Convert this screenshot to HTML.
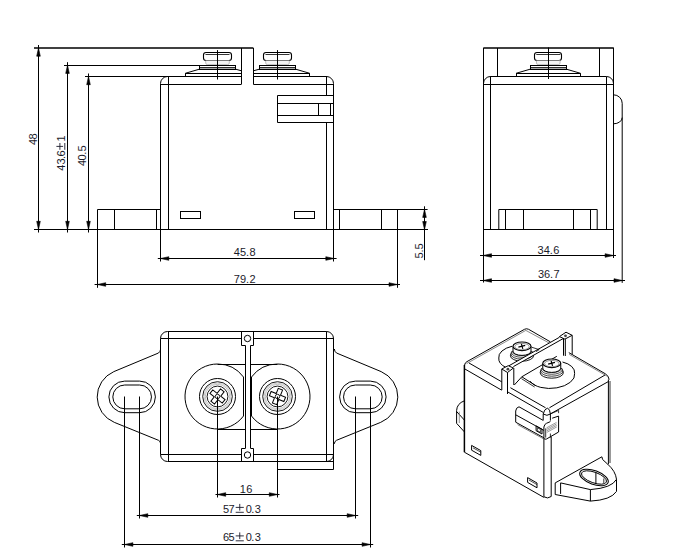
<!DOCTYPE html>
<html><head><meta charset="utf-8"><style>
html,body{margin:0;padding:0;background:#fff;width:700px;height:559px;overflow:hidden}
svg{display:block}
.g line,.g path,.g circle,.g rect,.g polyline,.g ellipse{stroke:#000;stroke-width:1;fill:none}
.g polygon.a{fill:#000;stroke:#000;stroke-width:0.6;stroke-linejoin:round}
.t text{font-family:"Liberation Sans",sans-serif;font-size:11px;fill:#1a1a2a}
</style></head><body>
<svg width="700" height="559" viewBox="0 0 700 559">
<g class="g">
<line x1="34" y1="48" x2="253.4" y2="48" style="stroke-width:1.3;"/>
<line x1="38.5" y1="45" x2="38.5" y2="232.5"/>
<polygon class="a" points="38.5,48 40.3,56.2 36.7,56.2"/>
<polygon class="a" points="38.5,229.5 36.7,221.3 40.3,221.3"/>
<line x1="64" y1="65.5" x2="199.5" y2="65.5"/>
<line x1="67.5" y1="62.2" x2="67.5" y2="232.5"/>
<polygon class="a" points="67.5,65.2 69.3,73.4 65.7,73.4"/>
<polygon class="a" points="67.5,229.5 65.7,221.3 69.3,221.3"/>
<line x1="85" y1="76.5" x2="241.4" y2="76.5"/>
<line x1="88.5" y1="73.5" x2="88.5" y2="232.5"/>
<polygon class="a" points="88.5,76.5 90.3,84.7 86.7,84.7"/>
<polygon class="a" points="88.5,229.5 86.7,221.3 90.3,221.3"/>
<line x1="34" y1="229.5" x2="428" y2="229.5"/>
<path d="M167.5,76.5 A7,7 0 0 0 160.5,83.5 V261.5"/>
<line x1="168.5" y1="76.5" x2="168.5" y2="229.5"/>
<line x1="160.6" y1="84.5" x2="241.4" y2="84.5"/>
<line x1="253.4" y1="84.5" x2="334" y2="84.5"/>
<line x1="253.4" y1="76.5" x2="327" y2="76.5"/>
<path d="M326.5,76.5 A7,7 0 0 1 333.5,83.5 V261.5"/>
<line x1="326.5" y1="76.5" x2="326.5" y2="95.4"/>
<line x1="326.5" y1="122.7" x2="326.5" y2="229.5"/>
<line x1="241.5" y1="48" x2="241.5" y2="84.3"/>
<line x1="253.5" y1="48" x2="253.5" y2="84.3"/>
<rect x="203.5" y="52.5" width="28" height="8" rx="2.5" style="stroke-width:1.1"/>
<line x1="205.5" y1="54.5" x2="229.5" y2="54.5" style="stroke-width:0.8;"/>
<path d="M205.7,60.5 V63 Q205.7,64.6 207.3,64.6 H227.7 Q229.3,64.6 229.3,63 V60.5" style="fill:#f4f4f4;stroke:#999;stroke-width:0.6"/>
<rect x="199.65" y="67.5" width="35.7" height="1.6" style="fill:#aaa;stroke:none"/>
<rect x="199.5" y="65.5" width="36" height="4"/>
<line x1="199.65" y1="67.5" x2="235.35" y2="67.5" style="stroke-width:0.8;"/>
<line x1="217.5" y1="50.1" x2="217.5" y2="79.5"/>
<rect x="263.5" y="52.5" width="28" height="8" rx="2.5" style="stroke-width:1.1"/>
<line x1="265.5" y1="54.5" x2="289.5" y2="54.5" style="stroke-width:0.8;"/>
<path d="M265.7,60.5 V63 Q265.7,64.6 267.3,64.6 H287.7 Q289.3,64.6 289.3,63 V60.5" style="fill:#f4f4f4;stroke:#999;stroke-width:0.6"/>
<rect x="259.65" y="67.5" width="35.7" height="1.6" style="fill:#aaa;stroke:none"/>
<rect x="259.5" y="65.5" width="36" height="4"/>
<line x1="259.65" y1="67.5" x2="295.35" y2="67.5" style="stroke-width:0.8;"/>
<line x1="277.5" y1="50.1" x2="277.5" y2="79.5"/>
<line x1="185.3" y1="73.5" x2="241.4" y2="73.5"/>
<line x1="185.5" y1="73.3" x2="185.5" y2="76.5"/>
<path d="M185.3,73.3 L199.65,69.1"/>
<path d="M235.35,69.1 L241.4,70.8"/>
<line x1="253.4" y1="73.5" x2="309.7" y2="73.5"/>
<line x1="309.5" y1="73.3" x2="309.5" y2="76.5"/>
<path d="M309.7,73.3 L295.35,69.1"/>
<path d="M259.65,69.1 L253.4,70.8"/>
<path d="M97.5,287.8 V209.5 H160.5"/>
<line x1="114.5" y1="209.4" x2="114.5" y2="229.5"/>
<line x1="156.5" y1="209.4" x2="156.5" y2="229.5"/>
<line x1="334" y1="209.5" x2="427.6" y2="209.5"/>
<line x1="397.5" y1="209.4" x2="397.5" y2="287.8"/>
<line x1="339.5" y1="209.4" x2="339.5" y2="229.5"/>
<line x1="381.5" y1="209.4" x2="381.5" y2="229.5"/>
<rect x="180.5" y="211.5" width="20" height="7"/>
<rect x="294.5" y="211.5" width="20" height="7"/>
<path d="M333.5,95.5 H277.5 V122.5 H333.5"/>
<line x1="277.3" y1="103.5" x2="334" y2="103.5"/>
<line x1="277.3" y1="115.5" x2="334" y2="115.5"/>
<rect x="318.5" y="103.5" width="12" height="12"/>
<line x1="157.8" y1="258.5" x2="336.6" y2="258.5"/>
<polygon class="a" points="160.6,258.5 168.8,256.7 168.8,260.3"/>
<polygon class="a" points="334,258.5 325.8,260.3 325.8,256.7"/>
<line x1="94.6" y1="284.5" x2="400" y2="284.5"/>
<polygon class="a" points="97.5,284.5 105.7,282.7 105.7,286.3"/>
<polygon class="a" points="397.2,284.5 389,286.3 389,282.7"/>
<line x1="424.5" y1="206.3" x2="424.5" y2="260.2"/>
<polygon class="a" points="424.5,209.4 426.3,217.4 422.7,217.4"/>
<polygon class="a" points="424.5,229.5 422.7,221.5 426.3,221.5"/>
<path transform="translate(65.4,170.7) rotate(-90)" d="M20.9,-5.5 H27.7 M24.3,-9 V-2.3 M20.9,-0.6 H27.7" style="stroke:#1a1a2a;stroke-width:0.9"/>
<line x1="483.3" y1="48" x2="613.8" y2="48" style="stroke-width:1.3;"/>
<line x1="483.5" y1="48" x2="483.5" y2="282.5"/>
<line x1="613.5" y1="48" x2="613.5" y2="258"/>
<line x1="497.5" y1="48" x2="497.5" y2="76.5"/>
<line x1="599.5" y1="48" x2="599.5" y2="76.5"/>
<line x1="490.2" y1="76.5" x2="606.4" y2="76.5"/>
<path d="M490.5,76.5 A7,7 0 0 0 483.5,83.5"/>
<path d="M606.5,76.5 A7,7 0 0 1 613.5,83.5"/>
<line x1="483.3" y1="84.5" x2="613.3" y2="84.5"/>
<line x1="490.5" y1="76.5" x2="490.5" y2="229.4"/>
<line x1="606.5" y1="76.5" x2="606.5" y2="229.4"/>
<line x1="483.3" y1="229.5" x2="613.3" y2="229.5"/>
<path d="M498.8,229.5 V209.5 H597.2 V229.5"/>
<line x1="505.5" y1="209.4" x2="505.5" y2="229.4"/>
<line x1="523.5" y1="209.4" x2="523.5" y2="229.4"/>
<line x1="573.5" y1="209.4" x2="573.5" y2="229.4"/>
<line x1="590.5" y1="209.4" x2="590.5" y2="229.4"/>
<rect x="534.5" y="52.5" width="27" height="8" rx="2.5" style="stroke-width:1.1"/>
<line x1="536.3" y1="54.5" x2="560.3" y2="54.5" style="stroke-width:0.8;"/>
<path d="M536.5,60.5 V63 Q536.5,64.6 538.1,64.6 H558.5 Q560.1,64.6 560.1,63 V60.5" style="fill:#f4f4f4;stroke:#999;stroke-width:0.6"/>
<rect x="530.45" y="67.5" width="35.7" height="1.6" style="fill:#aaa;stroke:none"/>
<rect x="530.5" y="65.5" width="36" height="4"/>
<line x1="530.45" y1="67.5" x2="566.15" y2="67.5" style="stroke-width:0.8;"/>
<line x1="548.5" y1="47.5" x2="548.5" y2="79"/>
<line x1="516.1" y1="73.5" x2="580.5" y2="73.5"/>
<line x1="516.5" y1="73.3" x2="516.5" y2="76.5"/>
<line x1="580.5" y1="73.3" x2="580.5" y2="76.5"/>
<path d="M516.1,73.3 L530.45,69.1"/>
<path d="M580.5,73.3 L566.15,69.1"/>
<path d="M613.5,94.8 A8.7,8.5 0 0 1 622.2,103.3 V282.9"/>
<path d="M622.2,117.6 A8.7,6.2 0 0 1 613.5,123.8"/>
<line x1="480" y1="255.5" x2="616" y2="255.5"/>
<polygon class="a" points="483.3,255.5 491.5,253.7 491.5,257.3"/>
<polygon class="a" points="613.3,255.5 605.1,257.3 605.1,253.7"/>
<line x1="480" y1="280.5" x2="625" y2="280.5"/>
<polygon class="a" points="483.3,280.5 491.5,278.7 491.5,282.3"/>
<polygon class="a" points="622.2,280.5 614,282.3 614,278.7"/>
<path d="M277.5,461.5 H167.5 A7,7 0 0 1 160.5,454.5 V338.5 A7,7 0 0 1 167.5,331.5 H326.5 A7,7 0 0 1 333.5,338.5 V469.5 H277.5 V461.5 H333.5 M326.5,461.5 A7,7 0 0 0 333.5,454.5"/>
<line x1="160.6" y1="338.5" x2="241.3" y2="338.5"/>
<line x1="253.6" y1="338.5" x2="334" y2="338.5"/>
<line x1="160.6" y1="454.5" x2="241.3" y2="454.5"/>
<line x1="253.6" y1="454.5" x2="334" y2="454.5"/>
<line x1="168.5" y1="331.4" x2="168.5" y2="461.3"/>
<line x1="326.5" y1="331.4" x2="326.5" y2="461.3"/>
<path d="M160.6,349 Q160.6,351.5 158.5,353 L113.82,371.64 A27.5,27.5 0 0 0 114.29,422.35 L158.5,440.3 Q160.6,441.3 160.6,443.8"/>
<path d="M124.7,381.1 H139.6 A15.8,15.8 0 0 1 139.6,412.7 H124.7 A15.8,15.8 0 0 1 124.7,381.1 Z"/>
<path d="M124.7,385 H139.6 A11.9,11.9 0 0 1 139.6,408.8 H124.7 A11.9,11.9 0 0 1 124.7,385 Z"/>
<path d="M334.4,349 Q334.4,351.5 336.5,353 L381.18,371.64 A27.5,27.5 0 0 1 380.71,422.35 L336.5,440.3 Q334.4,441.3 334.4,443.8"/>
<path d="M370.3,381.1 H355.4 A15.8,15.8 0 0 0 355.4,412.7 H370.3 A15.8,15.8 0 0 0 370.3,381.1 Z"/>
<path d="M370.3,385 H355.4 A11.9,11.9 0 0 0 355.4,408.8 H370.3 A11.9,11.9 0 0 0 370.3,385 Z"/>
<path d="M217.5,364 A32.5,32.5 0 1 0 243.5,416 V377 A32.5,32.5 0 0 0 217.5,364"/>
<path d="M277.5,364 A32.5,32.5 0 1 1 251.5,416 V377 A32.5,32.5 0 0 1 277.5,364"/>
<line x1="217.5" y1="364.5" x2="245.8" y2="364.5"/>
<line x1="250.6" y1="364.5" x2="277.5" y2="364.5"/>
<line x1="217.5" y1="429.5" x2="245.8" y2="429.5"/>
<line x1="250.6" y1="429.5" x2="277.5" y2="429.5"/>
<line x1="245.5" y1="345.5" x2="245.5" y2="448.3"/>
<line x1="250.5" y1="345.5" x2="250.5" y2="448.3"/>
<path d="M241.5,331.5 V345.5 H245.5 M250.5,345.5 H253.5 V331.5"/>
<path d="M241.5,461.5 V448.5 H245.5 M250.5,448.5 H253.5 V461.5"/>
<circle cx="247.5" cy="338.5" r="3.2"/>
<circle cx="247.5" cy="455" r="3.2"/>
<circle cx="217.5" cy="396.5" r="18" style="stroke-width:1"/>
<circle cx="217.5" cy="396.5" r="14.8" style="stroke-width:0.9"/>
<circle cx="217.5" cy="396.5" r="13.4" style="stroke:#999;stroke-width:0.5"/>
<circle cx="217.5" cy="396.5" r="12.2" style="stroke:#888;stroke-width:0.5"/>
<circle cx="217.5" cy="396.5" r="10.4" style="stroke-width:0.9"/>
<path transform="translate(217.5,396.5) rotate(38)" d="M-2.3,-7.8 H2.3 V-2.3 H7.8 V2.3 H2.3 V7.8 H-2.3 V2.3 H-7.8 V-2.3 H-2.3 Z" style="stroke-width:1"/>
<circle cx="217.5" cy="396.5" r="2.2" style="fill:#fff;stroke-width:0.9"/>
<circle cx="277.5" cy="396.5" r="18" style="stroke-width:1"/>
<circle cx="277.5" cy="396.5" r="14.8" style="stroke-width:0.9"/>
<circle cx="277.5" cy="396.5" r="13.4" style="stroke:#999;stroke-width:0.5"/>
<circle cx="277.5" cy="396.5" r="12.2" style="stroke:#888;stroke-width:0.5"/>
<circle cx="277.5" cy="396.5" r="10.4" style="stroke-width:0.9"/>
<path transform="translate(277.5,396.5) rotate(22)" d="M-2.3,-7.8 H2.3 V-2.3 H7.8 V2.3 H2.3 V7.8 H-2.3 V2.3 H-7.8 V-2.3 H-2.3 Z" style="stroke-width:1"/>
<circle cx="277.5" cy="396.5" r="2.2" style="fill:#fff;stroke-width:0.9"/>
<line x1="124.5" y1="396.5" x2="124.5" y2="547.5"/>
<line x1="139.5" y1="396.5" x2="139.5" y2="518.5"/>
<line x1="217.5" y1="396.5" x2="217.5" y2="497.5"/>
<line x1="277.5" y1="396.5" x2="277.5" y2="497.5"/>
<line x1="355.5" y1="396.5" x2="355.5" y2="518.5"/>
<line x1="370.5" y1="396.5" x2="370.5" y2="547.5"/>
<line x1="215.5" y1="494.5" x2="279.5" y2="494.5"/>
<polygon class="a" points="217.5,494.5 225.7,492.7 225.7,496.3"/>
<polygon class="a" points="277.5,494.5 269.3,496.3 269.3,492.7"/>
<line x1="136.8" y1="515.5" x2="358.2" y2="515.5"/>
<polygon class="a" points="139.6,515.5 147.8,513.7 147.8,517.3"/>
<polygon class="a" points="355.4,515.5 347.2,517.3 347.2,513.7"/>
<line x1="121.8" y1="544.5" x2="373.2" y2="544.5"/>
<polygon class="a" points="124.7,544.5 132.9,542.7 132.9,546.3"/>
<polygon class="a" points="370.3,544.5 362.1,546.3 362.1,542.7"/>
<path transform="translate(222.9,512.9) rotate(0)" d="M12.8,-5.5 H20.9 M16.85,-9 V-2.3 M12.8,-0.6 H20.9" style="stroke:#1a1a2a;stroke-width:0.9"/>
<path transform="translate(222.9,541.4) rotate(0)" d="M12.8,-5.5 H20.9 M16.85,-9 V-2.3 M12.8,-0.6 H20.9" style="stroke:#1a1a2a;stroke-width:0.9"/>
<!-- ISO VIEW -->
<!-- top face back edges (double) -->
<path d="M464.6,365 Q465,362.5 467,361.6 L524.5,329.3 Q526.5,328.2 528.6,329.3 L550.3,341.8" />
<path d="M466.6,363.6 L525.8,330.4 L550.3,343.6" style="stroke:#555;stroke-width:0.7"/>
<path d="M568.8,352.6 L605.2,373.7 Q608.6,375.6 609.2,379.6" />
<path d="M569.2,354.4 L606.8,376" style="stroke:#555;stroke-width:0.7"/>
<!-- top face front-left edge -->
<path d="M469,363 L501.7,381.8" />
<path d="M464.9,369 L501.7,390.2" />
<path d="M510.4,387.7 L545.6,407.8" />
<path d="M507.5,391.8 L543.2,412.4" />
<!-- front-right top edge -->
<path d="M549.4,407.8 L605,375" />
<path d="M550.4,413.9 L608.3,381.6" />
<!-- rounded front corner cap -->
<path d="M543.2,414 Q544,409.4 547.5,408 Q550,409.4 550.4,414 M543.2,414 Q547,416.6 550.4,414" />
<!-- verticals -->
<path d="M464.4,365 V452.2" style="stroke-width:1.5"/>
<path d="M608.4,379.5 V464.3" />
<path d="M610,381 V463" style="stroke-width:0.8"/>
<path d="M543.9,438.6 V496.8 Q547.6,499.2 551.2,496.5 V436.6" />
<!-- bottom edge left face -->
<path d="M464.4,452.2 L543.9,497.4" />
<!-- slots on left face -->
<path d="M471.6,445.4 L480.8,450.6 V455.4 L471.6,450.2 Z" />
<path d="M473,447.8 L480.8,452.2" style="stroke-width:0.7"/>
<path d="M527.6,477.6 L537,483 V487.8 L527.6,482.4 Z" />
<path d="M529,480 L537,484.6" style="stroke-width:0.7"/>
<!-- left bump (flange end seen behind) -->
<path d="M464.4,400.8 Q457,403.5 456.6,410.4 V423.3 L464.4,431.9" />
<path d="M456.6,411.5 L464.4,420.1" />
<path d="M459.3,411.6 V423" style="stroke:#777;stroke-width:0.8"/>
<!-- flange right -->
<path d="M555.2,494.5 V482.9 L601.9,456.8 L602.6,459.5 L607.8,464.3 Q615.5,471 616.5,479.3 V491.4 Q611,500 590.4,501.1 L555.2,494.5" />
<path d="M560.6,482.9 V493.9" />
<path d="M560.6,482.9 L590.4,489.6 Q612,488 616.5,479.3" />
<path d="M590.4,489.6 V501.1" />
<ellipse cx="594" cy="477.5" rx="15" ry="6.9" transform="rotate(20 594 477.5)" style="stroke-width:1.1"/>
<ellipse cx="594" cy="477.5" rx="13.2" ry="5.3" transform="rotate(20 594 477.5)" style="stroke-width:0.9"/>
<path d="M595.9,472.2 V484" />
<path d="M603.8,478.5 V483" style="stroke-width:0.8"/>
<!-- connector on front-left face -->
<path d="M515.7,422.2 V411 Q516,407.5 519,406.8 L543.2,420.4" />
<path d="M515.7,414.8 L543.9,430.4" />
<path d="M515.7,422.2 L543.9,437.8" />
<path d="M517.6,424.6 L543.9,439" style="stroke-width:0.7;stroke:#444"/>
<path d="M536.1,425.9 L542,429.2 V434 L536.1,430.7 Z" />
<path d="M537.4,427.8 L540.6,429.6 V432.4 L537.4,430.6 Z" style="stroke-width:0.7"/>
<path d="M543.9,438.6 V427 Q544.5,424 546.5,423.3 L550.4,421.6" />
<path d="M543.9,438.6 Q545,439.6 546.5,439 L558.6,432 V416.1 L552.2,418.2" />
<path d="M545.7,428.4 V437.6" style="stroke-width:0.8"/>
<path d="M550.4,433.5 V437.6" style="stroke-width:0.8"/>
<path d="M546.5,427.9 L556.5,422.4 M546.6,429.4 L556.6,423.9 M546.7,430.9 L556.7,425.4 M546.8,432.4 L556.8,426.9" style="stroke:#555;stroke-width:0.6"/>
<path d="M550.4,413.9 L558.6,410.4 V413.2" style="stroke-width:0.8"/>
<path d="M543.2,414 V420.4 M550.4,414 V420.6" />
<!-- left screw -->
<path d="M512.2,346.2 A23,12 0 0 0 498.8,358 A23,12 0 0 0 506.2,367.6" />
<path d="M512.20,351.10 L510.40,355.80 A11.6,5.4 0 0 0 533.60,355.80 L531.80,351.10 Z" style="fill:#fff;stroke:none"/>
<path d="M510.40,355.80 A11.60,5.40 0 0 0 533.60,355.80" style="stroke:#000;stroke-width:0.9"/>
<path d="M510.80,354.10 A11.20,5.10 0 0 0 533.20,354.10" style="stroke:#111;stroke-width:0.8"/>
<path d="M511.40,352.50 A10.60,4.80 0 0 0 532.60,352.50" style="stroke:#222;stroke-width:0.8"/>
<path d="M512.20,351.10 A9.80,4.50 0 0 0 531.80,351.10" style="stroke:#222;stroke-width:0.8"/>
<polyline points="512.20,351.10 511.40,352.50 510.80,354.10 510.40,355.80" style="stroke-width:0.9"/>
<polyline points="531.80,351.10 532.60,352.50 533.20,354.10 533.60,355.80" style="stroke-width:0.9"/>
<path d="M513.00,346.30 V351.10 A9,4.3 0 0 0 531.00,351.10 V346.30 Z" style="fill:#fff;stroke-width:1"/>
<ellipse cx="522.00" cy="346.30" rx="9" ry="4.3" style="fill:#fff;stroke-width:1.1"/>
<ellipse cx="522.00" cy="346.60" rx="7.2" ry="3.2" style="stroke:#666;stroke-width:0.7"/>
<path d="M518.40,347.10 L525.20,345.30 M521.40,343.90 L522.80,348.90" style="stroke-width:1.2"/>
<!-- beam -->
<path d="M508.5,366 L559.4,337.3 L563.5,338.4 L513.4,366.6 Z" style="fill:#fff;stroke:none"/>
<path d="M508.5,366 L559.4,337.3" />
<path d="M513.4,366.6 L563.5,338.4" />
<path d="M531.6,347.2 L539.2,349.6 L536,351.6" style="stroke-width:0.8"/>
<!-- left post -->
<path d="M501.8,390 V369 L508.2,365.7 L513.4,368 L507.5,372.5 L501.8,369" style="fill:#fff"/>
<path d="M507.5,372.5 V394" />
<path d="M513.8,368 V385" />
<circle cx="507.9" cy="369.2" r="1.4" style="fill:#444;stroke:none"/>
<!-- right post -->
<path d="M559.4,336.6 L566,332.2 L572.2,335.3 L564.9,339.1 Z" style="fill:#fff"/>
<path d="M563.5,338.4 V355.7" />
<path d="M565.3,339.1 V356" />
<path d="M572.2,335.3 V354.4" />
<circle cx="565.5" cy="335.8" r="1.4" style="fill:#444;stroke:none"/>
<!-- right screw platform -->
<path d="M514.3,385 L521.8,376.8 L556.8,356.3" />
<path d="M521.8,376.8 L535.7,385.6" />
<path d="M521.4,378.6 L534.6,387" style="stroke-width:0.8"/>

<!-- right screw -->
<path d="M530.2,381.2 A23,12.6 -4 0 0 574.6,373.5 A23,12.6 -4 0 0 562.5,362" />
<path d="M541.95,368.10 L540.15,372.80 A11.6,5.4 0 0 0 563.35,372.80 L561.55,368.10 Z" style="fill:#fff;stroke:none"/>
<path d="M540.15,372.80 A11.60,5.40 0 0 0 563.35,372.80" style="stroke:#000;stroke-width:0.9"/>
<path d="M540.55,371.10 A11.20,5.10 0 0 0 562.95,371.10" style="stroke:#111;stroke-width:0.8"/>
<path d="M541.15,369.50 A10.60,4.80 0 0 0 562.35,369.50" style="stroke:#222;stroke-width:0.8"/>
<path d="M541.95,368.10 A9.80,4.50 0 0 0 561.55,368.10" style="stroke:#222;stroke-width:0.8"/>
<polyline points="541.95,368.10 541.15,369.50 540.55,371.10 540.15,372.80" style="stroke-width:0.9"/>
<polyline points="561.55,368.10 562.35,369.50 562.95,371.10 563.35,372.80" style="stroke-width:0.9"/>
<path d="M542.75,363.30 V368.10 A9,4.3 0 0 0 560.75,368.10 V363.30 Z" style="fill:#fff;stroke-width:1"/>
<ellipse cx="551.75" cy="363.30" rx="9" ry="4.3" style="fill:#fff;stroke-width:1.1"/>
<ellipse cx="551.75" cy="363.60" rx="7.2" ry="3.2" style="stroke:#666;stroke-width:0.7"/>
<path d="M548.15,364.10 L554.95,362.30 M551.15,360.90 L552.55,365.90" style="stroke-width:1.2"/>

</g>
<g class="t">
<text transform="translate(233.8,256.4) rotate(0)" y="0"><tspan x="0">4</tspan><tspan x="6.2">5</tspan><tspan x="12.2">.</tspan><tspan x="15.7">8</tspan></text>
<text transform="translate(233.8,283.1) rotate(0)" y="0"><tspan x="0">7</tspan><tspan x="6.2">9</tspan><tspan x="12.2">.</tspan><tspan x="15.7">2</tspan></text>
<text transform="translate(37.1,145) rotate(-90)" y="0"><tspan x="0">4</tspan><tspan x="5.6">8</tspan></text>
<text transform="translate(65.4,170.7) rotate(-90)" y="0"><tspan x="0">4</tspan><tspan x="6.1">3</tspan><tspan x="11.6">.</tspan><tspan x="14.3">6</tspan><tspan x="29.2">1</tspan></text>
<text transform="translate(85.6,166) rotate(-90)" y="0"><tspan x="0">4</tspan><tspan x="5.6">0</tspan><tspan x="11.2">.</tspan><tspan x="14.6">5</tspan></text>
<text transform="translate(423,258.4) rotate(-90)" y="0"><tspan x="0">5</tspan><tspan x="5.8">.</tspan><tspan x="8.8">5</tspan></text>
<text transform="translate(537.6,254) rotate(0)" y="0"><tspan x="0">3</tspan><tspan x="6.2">4</tspan><tspan x="12.2">.</tspan><tspan x="15.7">6</tspan></text>
<text transform="translate(537.9,278.1) rotate(0)" y="0"><tspan x="0">3</tspan><tspan x="6.2">6</tspan><tspan x="12.2">.</tspan><tspan x="15.7">7</tspan></text>
<text transform="translate(240.7,492.9) rotate(0)" y="0"><tspan x="-1">1</tspan><tspan x="5.5">6</tspan></text>
<text transform="translate(222.9,512.9) rotate(0)" y="0"><tspan x="0">5</tspan><tspan x="5.6">7</tspan><tspan x="22.8">0</tspan><tspan x="28.4">.</tspan><tspan x="31.8">3</tspan></text>
<text transform="translate(222.9,541.4) rotate(0)" y="0"><tspan x="0">6</tspan><tspan x="5.6">5</tspan><tspan x="22.8">0</tspan><tspan x="28.4">.</tspan><tspan x="31.8">3</tspan></text>
</g>
</svg>
</body></html>
